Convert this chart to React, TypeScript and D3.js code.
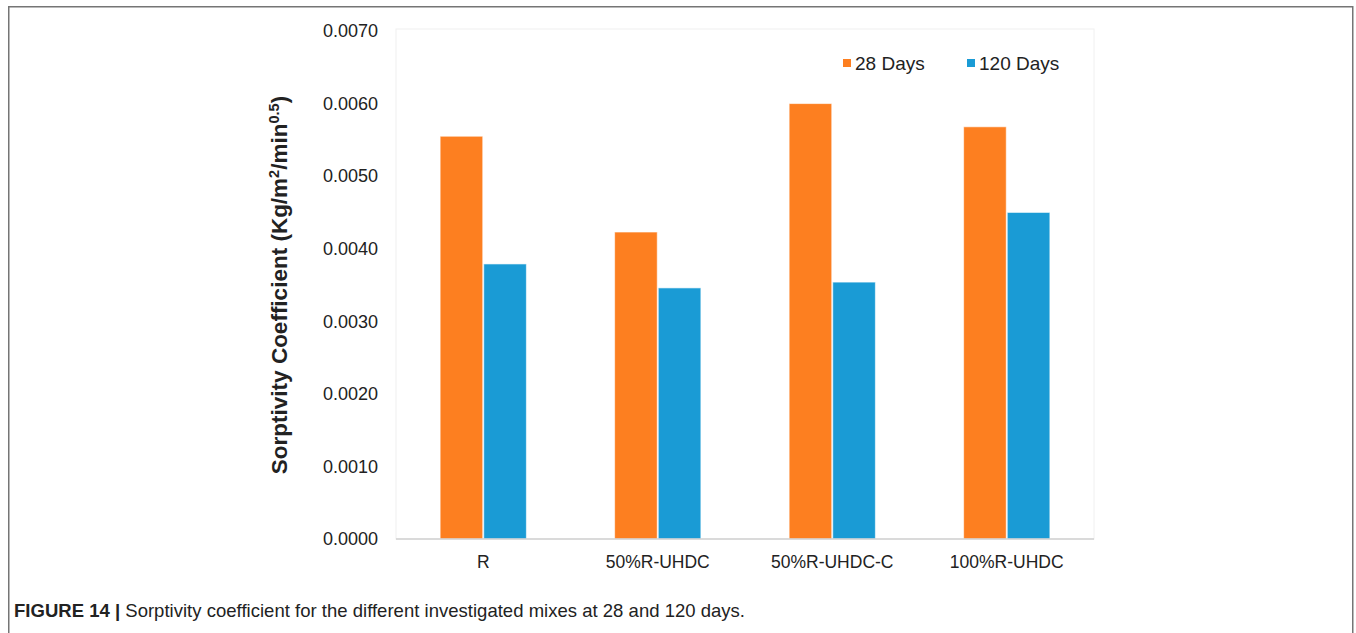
import React from "react";
import * as d3 from "d3";

const categories = ["R", "50%R-UHDC", "50%R-UHDC-C", "100%R-UHDC"];
const series = ["28 Days", "120 Days"];
const values28 = [0.00555, 0.00423, 0.0060, 0.00568];
const values120 = [0.00379, 0.00346, 0.00354, 0.0045];
const yTicks = [0, 0.001, 0.002, 0.003, 0.004, 0.005, 0.006, 0.007];
const colors = ["#FD7F20", "#1A9BD5"];
const caption = "Sorptivity coefficient for the different investigated mixes at 28 and 120 days.";

export default function App() {
  const W = 1356, H = 633;
  const left = 396, right = 1094, top = 29, bottom = 539;
  const x = d3.scaleBand<string>().domain(categories).range([left, right]).paddingInner(0.5).paddingOuter(0.25);
  const xs = d3.scaleBand<string>().domain(series).range([0, x.bandwidth()]).padding(0);
  const y = d3.scaleLinear().domain([0, 0.007]).range([bottom, top + 2]);
  const data = [values28, values120];
  const font = "'Liberation Sans', Arial, Helvetica, sans-serif";
  return (
    <svg width={W} height={H} style={{ position: "absolute", left: 0, top: 0, display: "block" }} fontFamily={font}>
      <rect x={0} y={0} width={W} height={H} fill="#fff" />
      <path d={`M8.75,${H + 2} V6.75 H1352.75 V${H + 2}`} fill="none" stroke="#757575" strokeWidth={1.5} />
      <rect x={left} y={top} width={right - left} height={bottom - top} fill="none" stroke="#f0f0f0" strokeWidth={1} />
      {yTicks.map((t) => (
        <text key={t} x={378} y={y(t)} dy="0.35em" textAnchor="end" fontSize={18} fill="#222">
          {d3.format(".4f")(t)}
        </text>
      ))}
      {categories.map((c, i) =>
        series.map((s, j) => {
          const v = data[j][i];
          const bx = (x(c) ?? 0) + (xs(s) ?? 0);
          return (
            <rect key={c + s} x={bx + 0.5} y={y(v)} width={xs.bandwidth() - 1} height={bottom - y(v)}
              fill={colors[j]} stroke="#fff" strokeOpacity={0.6} strokeWidth={1} />
          );
        })
      )}
      <line x1={left} x2={right} y1={bottom} y2={bottom} stroke="#d0d0d0" strokeWidth={1.5} />
      {categories.map((c) => (
        <text key={c} x={(x(c) ?? 0) + x.bandwidth() / 2} y={568} textAnchor="middle" fontSize={17.5} fill="#222">
          {c}
        </text>
      ))}
      <text transform={`translate(287,285) rotate(-90)`} textAnchor="middle" fontSize={22.5} fontWeight="bold" fill="#222">
        Sorptivity Coefficient (Kg/m<tspan dy={-8} fontSize={14.5}>2</tspan><tspan dy={8}>/min</tspan><tspan dy={-8} fontSize={14.5}>0.5</tspan><tspan dy={8}>)</tspan>
      </text>
      {series.map((s, j) => {
        const lx = j === 0 ? 843 : 967;
        return (
          <g key={s}>
            <rect x={lx} y={59} width={8} height={8} fill={colors[j]} />
            <text x={lx + 12} y={70} fontSize={19} fill="#222">{s}</text>
          </g>
        );
      })}
      <text x={14} y={617} fontSize={18.5} fill="#222" fontFamily="'Liberation Sans Narrow', 'Arial Narrow', sans-serif"
        textLength={731} lengthAdjust="spacing">
        <tspan fontWeight="bold">FIGURE 14 |</tspan> {caption}
      </text>
    </svg>
  );
}
